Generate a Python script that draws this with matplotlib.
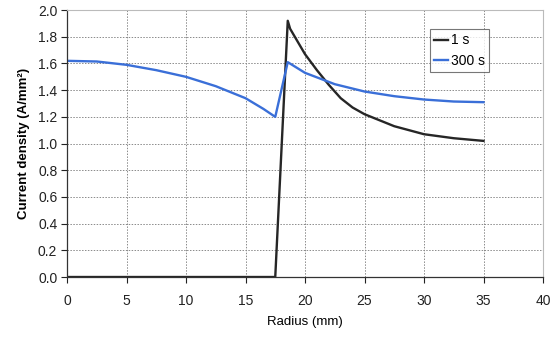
import matplotlib
matplotlib.use("Agg")
import matplotlib.pyplot as plt

plt.rcParams["font.family"] = ["Liberation Sans", "DejaVu Sans"]

# 1 s curve
r_1s = [0, 17.5, 18.55, 18.75, 20, 21, 22, 23, 24, 25, 27.5, 30, 32.5, 35]
j_1s = [0, 0, 1.92, 1.86, 1.67, 1.55, 1.44, 1.34, 1.27, 1.22, 1.13, 1.07, 1.04, 1.02]

# 300 s curve
r_300s = [0, 2.5, 5, 7.5, 10, 12.5, 15, 16.5, 17.5, 18.55, 20, 22.5, 25, 27.5, 30, 32.5, 35]
j_300s = [1.62, 1.615, 1.59, 1.55, 1.50, 1.43, 1.34, 1.26, 1.20, 1.61, 1.53, 1.445, 1.39, 1.355, 1.33, 1.315, 1.31]

fig = plt.figure(figsize=(5.51, 3.37), dpi=100)
ax = fig.add_axes([0.1216, 0.178, 0.8639, 0.792])

ax.plot(r_1s, j_1s, color="#262626", lw=1.7, label="1 s")
ax.plot(r_300s, j_300s, color="#3a6fd8", lw=1.7, label="300 s")

ax.set_xlim(0, 40)
ax.set_ylim(0, 2.0)
ax.set_xticks(range(0, 41, 5))
ax.set_yticks([i * 0.2 for i in range(11)])
ax.set_yticklabels([f"{i * 0.2:.1f}" for i in range(11)])
ax.tick_params(labelsize=10, length=4, width=0.8, colors="#222222", pad=3)
ax.tick_params(axis="x", pad=8)

ax.grid(True, color="#8a8a8a", linestyle=(0, (1.5, 1.5)), linewidth=0.7)
ax.set_axisbelow(True)
for s in ["top", "right"]:
    ax.spines[s].set_color("#bbbbbb")
for s in ["left", "bottom"]:
    ax.spines[s].set_color("#333333")
    ax.spines[s].set_linewidth(0.9)

ax.set_xlabel("Radius (mm)", fontsize=9.5, labelpad=6)
ax.set_ylabel("Current density (A/mm²)", fontsize=9.5, fontweight="bold", labelpad=6)

leg = ax.legend(loc="upper left", bbox_to_anchor=(0.763, 0.928), fontsize=10,
                frameon=True, fancybox=False, borderpad=0.3, handlelength=1.0,
                handletextpad=0.2, labelspacing=0.45, borderaxespad=0)
leg.get_frame().set_edgecolor("#555555")
leg.get_frame().set_linewidth(0.8)

fig.savefig("out.png", dpi=100)
